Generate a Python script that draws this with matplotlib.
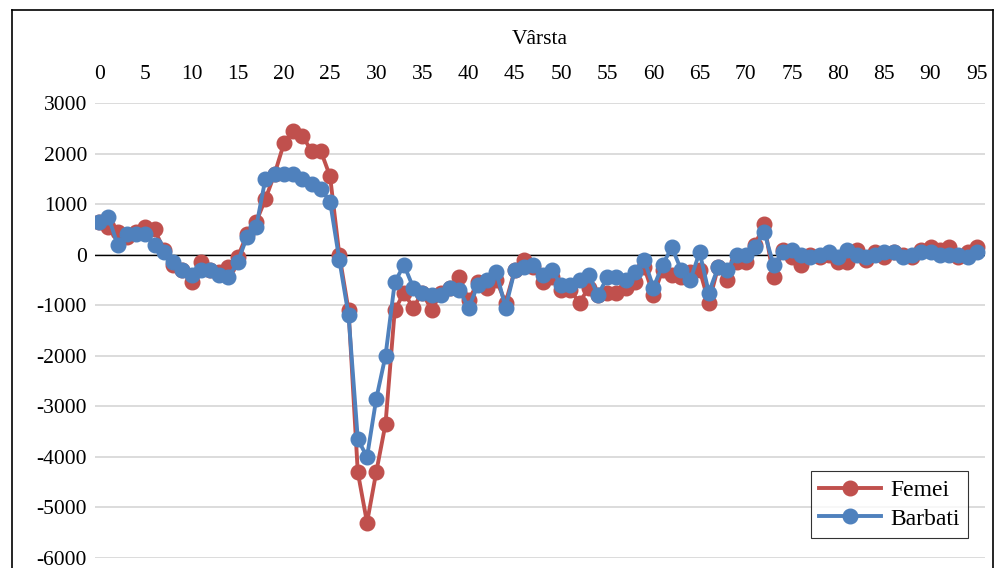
import matplotlib
matplotlib.use("Agg")
import matplotlib.pyplot as plt
from matplotlib.lines import Line2D
import numpy as np

# age 0..95
varsta = list(range(0, 96))

femei = [650, 550, 450, 350, 450, 550, 500, 100, -200, -300,
         -550, -150, -300, -350, -250, -50, 400, 650, 1100, 1600,
         2200, 2450, 2350, 2050, 2050, 1550, 0, -1100, -4300, -5300,
         -4300, -3350, -1100, -750, -1050, -750, -1100, -750, -650, -450,
         -900, -550, -650, -500, -950, -300, -100, -250, -550, -450,
         -700, -700, -950, -650, -800, -750, -750, -650, -550, -250,
         -800, -300, -400, -450, -350, -300, -950, -250, -500, -150,
         -150, 200, 600, -450, 100, -50, -200, 0, -50, 0,
         -150, -150, 100, -100, 50, -50, 50, 0, -50, 100,
         150, 100, 150, -50, 50, 150]

barbati = [650, 750, 200, 400, 400, 400, 200, 50, -150, -300,
           -400, -300, -300, -400, -450, -150, 350, 550, 1500, 1600,
           1600, 1600, 1500, 1400, 1300, 1050, -100, -1200, -3650, -4000,
           -2850, -2000, -550, -200, -650, -750, -800, -800, -650, -700,
           -1050, -600, -500, -350, -1050, -300, -250, -200, -400, -300,
           -600, -600, -500, -400, -800, -450, -450, -500, -350, -100,
           -650, -200, 150, -300, -500, 50, -750, -250, -300, 0,
           0, 150, 450, -200, 50, 100, 0, -50, 0, 50,
           -50, 100, 0, -50, 0, 50, 50, -50, 0, 50,
           50, 0, 0, 0, -50, 50]

x_ticks = list(range(0, 96, 5))
y_ticks = list(range(-6000, 3001, 1000))

plt.rcParams['font.family'] = ['Liberation Serif', 'DejaVu Serif']
plt.rcParams['axes.unicode_minus'] = False

fig = plt.figure(figsize=(9.94, 5.68), dpi=100)
ax = fig.add_axes([0.096, 0.0176, 0.895, 0.801])

ax.plot(varsta, femei, color="#C0504D", lw=2.8, marker="o", ms=10.5,
        label="Femei", zorder=3)
ax.plot(varsta, barbati, color="#4F81BD", lw=2.8, marker="o", ms=10.5,
        label="Barbati", zorder=4)

ax.set_xlim(-0.4, 95.9)
ax.set_ylim(-6000, 3000)
ax.set_xticks(x_ticks)
ax.set_yticks(y_ticks)
ax.xaxis.tick_top()
ax.xaxis.set_label_position("top")
ax.set_xlabel("Vârsta", fontsize=15.5, labelpad=15)
ax.tick_params(axis="both", length=0, labelsize=15.5)
ax.tick_params(axis="x", pad=14)
ax.tick_params(axis="y", pad=6)

ax.grid(axis="y", color="#D9D9D9", lw=1.3)
ax.set_axisbelow(True)
ax.axhline(0, color="black", lw=1.0, zorder=2)
for s in ax.spines.values():
    s.set_visible(False)

leg = ax.legend(loc="lower right", fontsize=17, frameon=True, fancybox=False,
                edgecolor="black", borderpad=0.35, handlelength=2.6,
                handletextpad=0.4, labelspacing=0.3,
                bbox_to_anchor=(0.994, 0.018))
leg.get_frame().set_linewidth(0.8)

# outer chart frame
fig.add_artist(Line2D([0.012, 0.012], [0, 0.982], color="black", lw=1.2,
                      transform=fig.transFigure))
fig.add_artist(Line2D([0.012, 0.999], [0.982, 0.982], color="black", lw=1.2,
                      transform=fig.transFigure))
fig.add_artist(Line2D([0.999, 0.999], [0, 0.982], color="black", lw=1.2,
                      transform=fig.transFigure))

fig.savefig("out.png", dpi=100)
